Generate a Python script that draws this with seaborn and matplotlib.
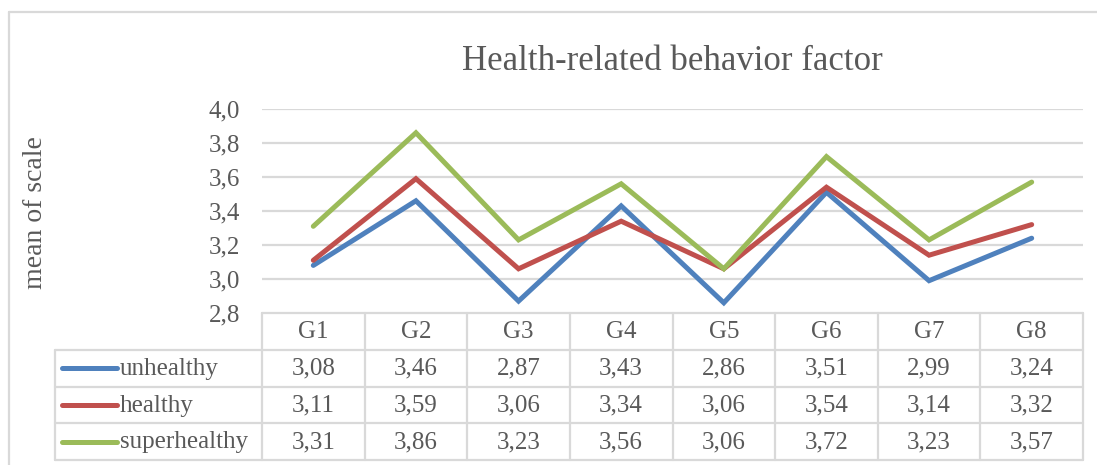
import matplotlib
matplotlib.use("Agg")
import matplotlib.pyplot as plt
from matplotlib.lines import Line2D
import seaborn as sns
import pandas as pd

# Data
groups = ["G1", "G2", "G3", "G4", "G5", "G6", "G7", "G8"]
unhealthy = [3.08, 3.46, 2.87, 3.43, 2.86, 3.51, 2.99, 3.24]
healthy = [3.11, 3.59, 3.06, 3.34, 3.06, 3.54, 3.14, 3.32]
superhealthy = [3.31, 3.86, 3.23, 3.56, 3.06, 3.72, 3.23, 3.57]
series_names = ["unhealthy", "healthy", "superhealthy"]
y_ticks = [2.8, 3.0, 3.2, 3.4, 3.6, 3.8, 4.0]

title = "Health-related behavior factor"
y_label = "mean of scale"

colors = ["#4F81BD", "#C0504D", "#9BBB59"]
text_color = "#595959"
grid_color = "#D9D9D9"

sns.set_theme(style="white")
plt.rcParams["font.family"] = ["Liberation Serif", "DejaVu Serif"]

W, H = 1097, 465
fig = plt.figure(figsize=(W / 100, H / 100), dpi=100)


def fx(px):
    return px / W


def fy(py):
    return 1 - py / H


# Layout in pixels
plot_left, plot_right = 262, 1083
plot_top, plot_bottom = 109, 313
table_left, table_bottom = 55, 460
fs = 18

ax = fig.add_axes([fx(plot_left), fy(plot_bottom),
                   fx(plot_right - plot_left), (plot_bottom - plot_top) / H])

values = [unhealthy, healthy, superhealthy]
df = pd.DataFrame({
    "idx": [i for _ in series_names for i in range(len(groups))],
    "value": [v for vals in values for v in vals],
    "series": [s for s in series_names for _ in groups],
})
sns.lineplot(data=df, x="idx", y="value", hue="series", palette=colors,
             hue_order=series_names, linewidth=3.6, legend=False, ax=ax,
             solid_capstyle="round", solid_joinstyle="miter")

ax.set_xlim(-0.5, len(groups) - 0.5)
ax.set_ylim(y_ticks[0], y_ticks[-1])
ax.set_yticks(y_ticks)
ax.set_yticklabels([f"{t:.1f}".replace(".", ",") for t in y_ticks],
                   fontsize=fs, color=text_color)
ax.tick_params(axis="y", length=0, pad=16)
ax.set_xticks([])
ax.set_xlabel("")
ax.set_ylabel("")
for s in ax.spines.values():
    s.set_visible(False)
for t in y_ticks[1:]:
    ax.axhline(t, color=grid_color, lw=1.6, zorder=0)

# y-axis title
fig.text(fx(36), fy(213), y_label, rotation=90, ha="center", va="center",
         fontsize=20, color=text_color)

# Chart title
fig.text(fx((plot_left + plot_right) / 2), fy(62), title, ha="center",
         va="center", fontsize=25, color=text_color)

# Data table below the plot
n = len(groups)
col_w = (plot_right - plot_left) / n
legend_cols = (plot_left - table_left) / col_w
tab = fig.add_axes([fx(table_left), fy(table_bottom),
                    fx(plot_right - table_left), (table_bottom - plot_bottom) / H])
tab.set_xlim(-0.5 - legend_cols, n - 0.5)
tab.set_ylim(4, 0)
tab.axis("off")

lw_t = 1.6
x0 = -0.5 - legend_cols
# horizontal borders
tab.plot([-0.5, n - 0.5], [0, 0], color=grid_color, lw=lw_t, clip_on=False)
for r in range(1, 5):
    tab.plot([x0, n - 0.5], [r, r], color=grid_color, lw=lw_t, clip_on=False)
# vertical borders
tab.plot([x0, x0], [1, 4], color=grid_color, lw=lw_t, clip_on=False)
for c in range(n + 1):
    tab.plot([c - 0.5, c - 0.5], [0, 4], color=grid_color, lw=lw_t, clip_on=False)

for c, g in enumerate(groups):
    tab.text(c, 0.52, g, ha="center", va="center", fontsize=fs, color=text_color)
for r, (name, vals, col) in enumerate(zip(series_names, values, colors), start=1):
    sw0 = x0 + 7 / col_w
    sw1 = x0 + 62 / col_w
    tab.add_line(Line2D([sw0, sw1], [r + 0.5, r + 0.5], color=col, lw=3.6,
                        solid_capstyle="round", clip_on=False))
    tab.text(x0 + 65 / col_w, r + 0.52, name, ha="left", va="center",
             fontsize=fs, color=text_color)
    for c, v in enumerate(vals):
        tab.text(c, r + 0.52, f"{v:.2f}".replace(".", ","), ha="center",
                 va="center", fontsize=fs, color=text_color)

# Outer chart frame (top and left edges)
fig.add_artist(Line2D([fx(9), 1], [fy(12), fy(12)], color=grid_color, lw=1.6))
fig.add_artist(Line2D([fx(9), fx(9)], [fy(12), 0], color=grid_color, lw=1.6))

fig.savefig("out.png", dpi=100, facecolor="white")
